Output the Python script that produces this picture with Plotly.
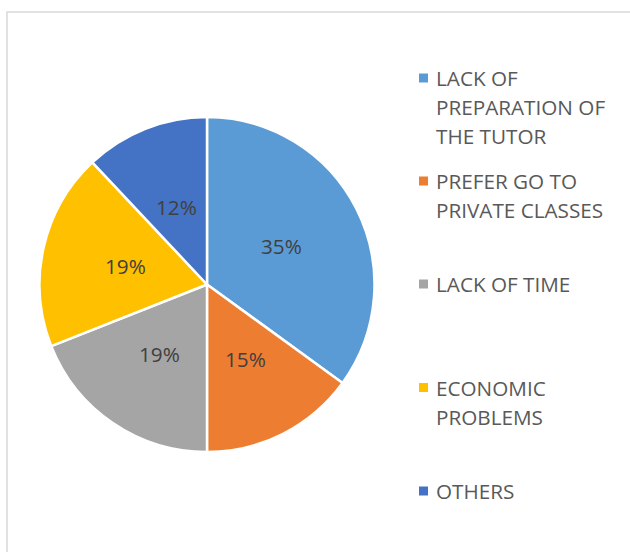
import math
import plotly.graph_objects as go

# Reasons and their shares (%)
categories = [
    "LACK OF PREPARATION OF THE TUTOR",
    "PREFER GO TO PRIVATE CLASSES",
    "LACK OF TIME",
    "ECONOMIC PROBLEMS",
    "OTHERS",
]
shares = [35, 15, 19, 19, 12]
colors = ["#5B9BD5", "#ED7D31", "#A5A5A5", "#FFC000", "#4472C4"]

# Legend text, wrapped the way it is displayed
legend_lines = [
    ["LACK OF", "PREPARATION OF", "THE TUTOR"],
    ["PREFER GO TO", "PRIVATE CLASSES"],
    ["LACK OF TIME"],
    ["ECONOMIC", "PROBLEMS"],
    ["OTHERS"],
]

W, H = 630, 552
FONT = "Open Sans"
FS = 20.7

# Pie geometry in pixels
CX, CY, R = 207, 284.5, 167.5


def px(x):
    return x / W


def py(y):
    return 1 - y / H


fig = go.Figure(
    go.Pie(
        labels=categories,
        values=shares,
        sort=False,
        direction="clockwise",
        rotation=0,
        marker=dict(colors=colors, line=dict(color="white", width=2.5)),
        textinfo="none",
        domain=dict(x=[px(CX - R), px(CX + R)], y=[py(CY + R), py(CY - R)]),
        showlegend=False,
        hoverinfo="label+percent",
    )
)

annotations = []
shapes = []

# Percentage labels placed at half radius along each slice's bisector
total = sum(shares)
cum = 0
for v in shares:
    mid = (cum + v / 2) / total * 2 * math.pi
    cum += v
    lx = CX + 0.5 * R * math.sin(mid)
    ly = CY - 0.5 * R * math.cos(mid)
    annotations.append(
        dict(
            text=f"{v}%", xref="paper", yref="paper",
            x=px(lx), y=py(ly), xanchor="center", yanchor="middle",
            showarrow=False,
            font=dict(family=FONT, size=FS, color="#404040"),
        )
    )

# Legend: evenly distributed entries with square markers
entry_top = [78, 181, 284, 387.5, 491]
line_gap = 29
for lines, color, y0 in zip(legend_lines, colors, entry_top):
    shapes.append(
        dict(
            type="rect", xref="paper", yref="paper",
            x0=px(419), x1=px(428), y0=py(y0 - 4.5), y1=py(y0 + 4.5),
            fillcolor=color, line=dict(width=0),
        )
    )
    for i, line in enumerate(lines):
        annotations.append(
            dict(
                text=line, xref="paper", yref="paper",
                x=px(434), y=py(y0 + i * line_gap),
                xanchor="left", yanchor="middle", showarrow=False,
                font=dict(family=FONT, size=FS, color="#595959"),
            )
        )

# Chart-area frame
shapes.append(
    dict(
        type="rect", xref="paper", yref="paper",
        x0=px(7), x1=1.05, y0=-0.05, y1=py(12),
        line=dict(color="#D9D9D9", width=1.5), fillcolor="rgba(0,0,0,0)",
        layer="below",
    )
)

fig.update_layout(
    width=W, height=H,
    margin=dict(l=0, r=0, t=0, b=0),
    paper_bgcolor="white",
    plot_bgcolor="white",
    annotations=annotations,
    shapes=shapes,
)

fig.write_html("out.html")
